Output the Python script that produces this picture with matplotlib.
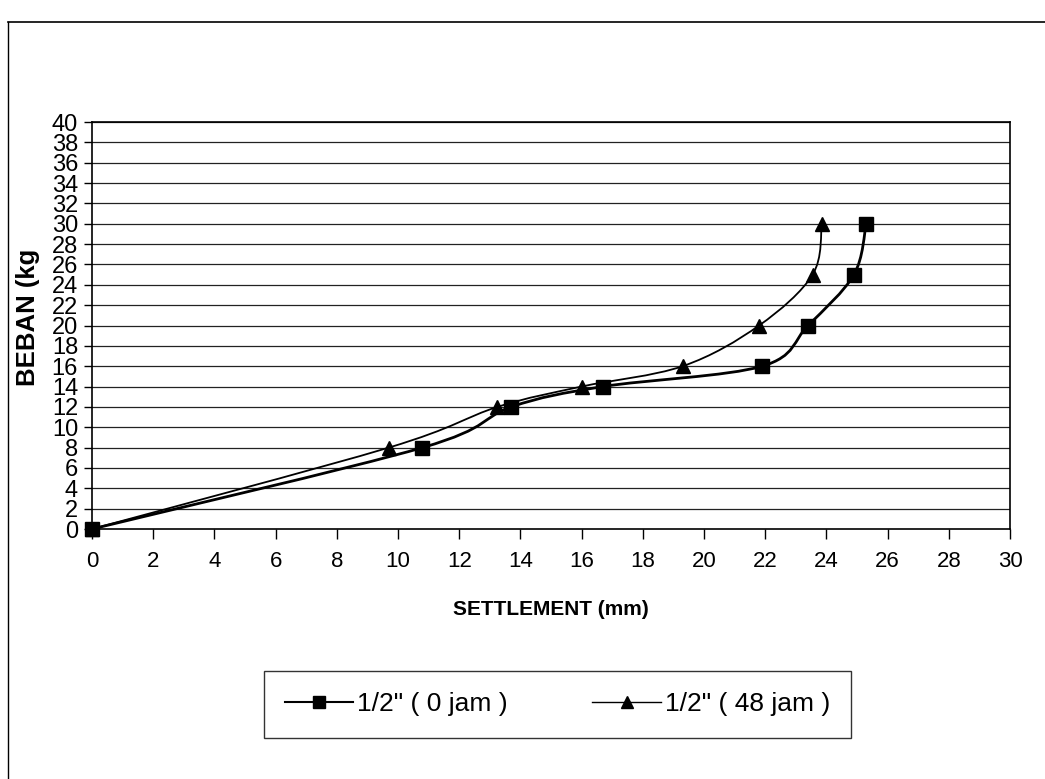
"""Load vs settlement chart (BEBAN vs SETTLEMENT), two curves with smoothed lines."""

import matplotlib

matplotlib.use("Agg")
import matplotlib.pyplot as plt
import numpy as np
from matplotlib.lines import Line2D
from matplotlib.path import Path
from matplotlib.patches import PathPatch

plt.rcParams["font.family"] = ["Liberation Sans", "DejaVu Sans"]

# data
beban = [0, 8, 12, 14, 16, 20, 25, 30]
settle_0jam = [0, 10.8, 13.7, 16.7, 21.9, 23.4, 24.9, 25.3]
settle_48jam = [0, 9.7, 13.25, 16.0, 19.3, 21.8, 23.55, 23.85]
labels = ['1/2" ( 0 jam )', '1/2" ( 48 jam )']

x_ticks = list(range(0, 31, 2))
y_ticks = list(range(0, 41, 2))


def smooth_path(xs, ys):
    # Excel-style smoothed line: cubic Bezier between neighbouring points
    pts = np.column_stack([xs, ys]).astype(float)
    n = len(pts)
    verts = [pts[0]]
    codes = [Path.MOVETO]
    for i in range(n - 1):
        p0 = pts[max(i - 1, 0)]
        p1 = pts[i]
        p2 = pts[i + 1]
        p3 = pts[min(i + 2, n - 1)]
        c1 = p1 + (p2 - p0) / 6.0
        c2 = p2 - (p3 - p1) / 6.0
        verts += [c1, c2, p2]
        codes += [Path.CURVE4] * 3
    return Path(verts, codes)


fig = plt.figure(figsize=(10.45, 7.79), dpi=100)
ax = fig.add_axes([92 / 1045, 1 - 529 / 779, 918 / 1045, 407 / 779])

for y in y_ticks[1:]:
    ax.axhline(y, color="#222222", lw=0.9, zorder=1)

ax.add_patch(PathPatch(smooth_path(settle_0jam, beban), fill=False,
                       edgecolor="black", lw=2.0, zorder=3))
ax.add_patch(PathPatch(smooth_path(settle_48jam, beban), fill=False,
                       edgecolor="black", lw=1.3, zorder=3))
ax.plot(settle_0jam, beban, ls="none", marker="s", ms=10, color="black",
        zorder=4, clip_on=False)
ax.plot(settle_48jam, beban, ls="none", marker="^", ms=10, color="black",
        zorder=4, clip_on=False)

ax.set_xlim(0, 30)
ax.set_ylim(0, 40)
ax.set_xticks(x_ticks)
ax.set_yticks(y_ticks)
ax.tick_params(axis="x", direction="out", length=7, width=1, pad=9, labelsize=16)
ax.tick_params(axis="y", direction="out", length=6, width=1, pad=4, labelsize=17)
for s in ax.spines.values():
    s.set_linewidth(1.2)
    s.set_color("black")

ax.set_xlabel("SETTLEMENT (mm)", fontsize=15, fontweight="bold", labelpad=20)
ax.set_ylabel("BEBAN (kg", fontsize=18.5, fontweight="bold")
ax.yaxis.set_label_coords(-52 / 918, 0.52)

# legend box
handles = [
    Line2D([], [], color="black", lw=1.5, marker="s", ms=9),
    Line2D([], [], color="black", lw=1.0, marker="^", ms=9),
]
leg = fig.legend(handles, labels, loc="center", bbox_to_anchor=(557.5 / 1045, 1 - 704.5 / 779),
                 ncol=2, fontsize=19, frameon=True, fancybox=False, edgecolor="black",
                 handlelength=2.6, columnspacing=3.2, borderpad=0.8, handletextpad=0.15,
                 borderaxespad=0)
leg.get_frame().set_linewidth(1.0)

# outer chart frame
fig.add_artist(Line2D([8 / 1045, 1], [1 - 22 / 779, 1 - 22 / 779],
                      transform=fig.transFigure, color="black", lw=1.2))
fig.add_artist(Line2D([8 / 1045, 8 / 1045], [0, 1 - 22 / 779],
                      transform=fig.transFigure, color="black", lw=1.0))

fig.savefig("out.png", dpi=100)
